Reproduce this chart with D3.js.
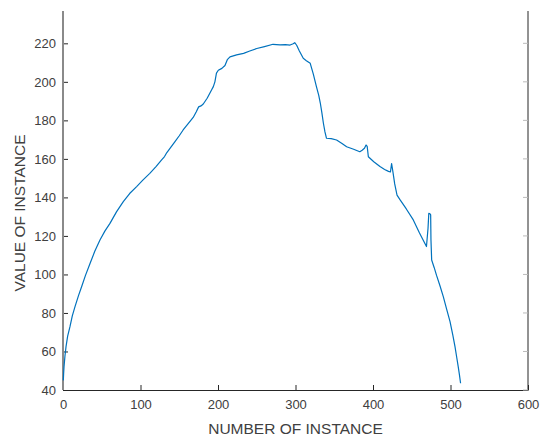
<!DOCTYPE html>
<html>
<head>
<meta charset="utf-8">
<script src="https://cdn.jsdelivr.net/npm/d3@7"></script>
<style>
  html, body { margin: 0; padding: 0; background: #fff; }
  svg { display: block; }
  text { font-family: "Liberation Sans", Arial, Helvetica, sans-serif; }
</style>
</head>
<body>
<svg id="chart" width="540" height="437"></svg>
<script>
// ---- data ----
const instanceNumber = [0.4, 0.8, 1.3, 2.5, 3.9, 6, 9, 12, 15.5, 20, 24, 29, 35, 41, 47.7, 54, 60.6, 69, 77.8, 86, 95, 103, 112, 120, 127, 131, 134, 139, 144.5, 150, 155, 161, 168, 172, 175, 178, 181, 186, 192, 194, 196, 198, 200.4, 205, 209, 212, 215.5, 224, 233, 241, 250, 260, 271, 280, 287, 293, 297, 299, 301.5, 305, 310, 314, 319, 323, 327, 330, 332, 334, 336, 338, 340, 346, 353, 360, 366, 375, 383, 386, 389, 391, 392.5, 394, 401, 409, 415, 420, 422.5, 424, 426, 428, 431, 435, 443, 452, 460, 469, 471, 472, 473.5, 474.4, 474.8, 475.7, 479, 482, 486.5, 490.7, 495, 499.4, 503, 505.8, 508, 510, 511.5, 513];
const instanceValue  = [45, 48.5, 52, 57.5, 62.5, 68, 72.9, 78.5, 83.3, 89, 93.6, 99.5, 105.8, 112, 117.9, 122.5, 126.5, 132.5, 137.8, 142, 145.6, 149, 152.5, 156, 159.4, 161.2, 163.3, 166, 169, 172, 175, 178, 181.5, 184.5, 187, 187.5, 188.5, 191.5, 196, 197.5, 200, 204.5, 206, 207, 208.5, 211.5, 213, 214, 214.8, 216, 217.3, 218.3, 219.5, 219.2, 219.3, 219.1, 219.8, 220.3, 219, 216, 212.2, 211, 209.6, 204, 197.5, 193, 189, 184, 178.5, 174, 170.7, 170.5, 169.8, 168, 166.3, 165, 163.7, 164.5, 165.5, 167.2, 166.5, 161.1, 158.5, 156, 154.5, 153.5, 153.2, 157.6, 152.5, 147, 141.2, 138.7, 134, 128.3, 121.5, 114.5, 124, 131.7, 131.5, 130.9, 117.9, 107.5, 103.5, 99.5, 94, 88.5, 82, 75.5, 68.5, 62.5, 57, 52, 48, 43.5];
const xTicks = [0, 100, 200, 300, 400, 500, 600];
const yTicks = [40, 60, 80, 100, 120, 140, 160, 180, 200, 220];
const xLabel = "NUMBER OF INSTANCE";
const yLabel = "VALUE OF INSTANCE";

const svg = d3.select("#chart");
const left = 63, right = 528, bottom = 390, axisTop = 11;

const x = d3.scaleLinear().domain([0, 600]).range([left, right]);
const y = d3.scaleLinear().domain([40, 240]).range([bottom, 4.8]);

const textColor = "#404040";

// x axis (bottom)
const gx = svg.append("g")
  .attr("transform", `translate(0,${bottom})`)
  .call(d3.axisBottom(x).tickValues(xTicks).tickSizeInner(-5).tickSizeOuter(0).tickPadding(10));
gx.select(".domain").attr("stroke", "#262626").attr("stroke-width", 1);
gx.selectAll(".tick line").attr("stroke", "#262626");
gx.selectAll(".tick text").attr("fill", textColor).attr("font-size", 13);

// y axis (left)
const gy = svg.append("g")
  .attr("transform", `translate(${left},0)`)
  .call(d3.axisLeft(y).tickValues(yTicks).tickSizeInner(-5).tickSizeOuter(0).tickPadding(7));
gy.select(".domain").remove();
gy.selectAll(".tick line").attr("stroke", "#262626");
gy.selectAll(".tick text").attr("fill", textColor).attr("font-size", 13);
gy.append("line")
  .attr("x1", 0).attr("x2", 0).attr("y1", axisTop).attr("y2", bottom)
  .attr("stroke", "#8a8a8a").attr("stroke-width", 2);

// right box edge
const gr = svg.append("g").attr("transform", `translate(${right},0)`);
gr.append("line")
  .attr("x1", 0).attr("x2", 0).attr("y1", axisTop).attr("y2", bottom)
  .attr("stroke", "#262626").attr("stroke-width", 1);
gr.selectAll("line.t").data(yTicks).join("line")
  .attr("class", "t")
  .attr("x1", 0).attr("x2", -5)
  .attr("y1", d => y(d)).attr("y2", d => y(d))
  .attr("stroke", "#bbbbbb");

// the series
const line = d3.line().x((d, i) => x(instanceNumber[i])).y(d => y(d));
svg.append("path")
  .datum(instanceValue)
  .attr("d", line)
  .attr("fill", "none")
  .attr("stroke", "#0072BD")
  .attr("stroke-width", 1.2)
  .attr("stroke-linejoin", "round");

// axis labels
svg.append("text")
  .attr("x", (left + right) / 2).attr("y", 434)
  .attr("text-anchor", "middle")
  .attr("fill", textColor)
  .attr("font-size", 15.5)
  .text(xLabel);

svg.append("text")
  .attr("transform", `translate(25,213) rotate(-90)`)
  .attr("text-anchor", "middle")
  .attr("fill", textColor)
  .attr("font-size", 15.5)
  .text(yLabel);
</script>
</body>
</html>
